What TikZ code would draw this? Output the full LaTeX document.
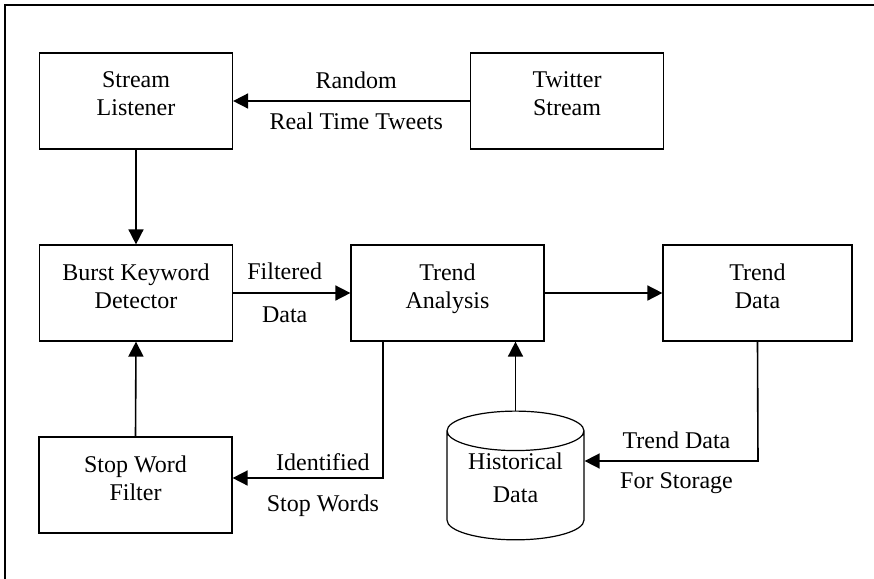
\documentclass[tikz,border=0pt]{standalone}
\usepackage{fontspec}
\setmainfont{Liberation Serif}
\usetikzlibrary{shapes.geometric,arrows.meta}

\begin{document}
\begin{tikzpicture}[x=0.5pt,y=-0.5pt,
		box/.style={shape=rectangle,draw=black,line width=0.6pt,minimum width=96.5pt,minimum height=48pt,align=center,text depth=7pt,font=\fontsize{12}{14}\selectfont},
		arr/.style={-{Triangle[length=7.5pt,width=7.5pt]},line width=0.8pt},
		lbl/.style={font=\fontsize{12}{14}\selectfont}]
		\useasboundingbox (0,0) rectangle (874,579);
		\draw [line width=0.6pt] (5,579) -- (5,5) -- (874,5);
		\node [box] (SL) at (136,101) {Stream\\Listener};
		\node [box] (TS) at (567,101) {Twitter\\Stream};
		\node [box] (BK) at (136,293) {Burst Keyword\\Detector};
		\node [box] (TA) at (447.5,293) {Trend\\Analysis};
		\node [box,minimum width=94.5pt] (TD) at (757.5,293) {Trend\\Data};
		\node [box] (SW) at (135.5,485) {Stop Word\\Filter};
		\node [shape=cylinder,shape border rotate=90,draw=black,line width=0.6pt,minimum width=68.5pt,minimum height=57pt,aspect=0.4,inner sep=1pt,align=center,text depth=10pt,lbl] (HD) at (515.5,488) {Historical\\[2.5pt]Data};
		\coordinate (k1) at (383,478);
		\coordinate (k2) at (758,461);
		\draw [arr] (TS.west) -- node [lbl,above=2.5pt,pos=0.48] (r1) {Random} node [lbl,below=2pt,pos=0.48] (r2) {Real Time Tweets} (SL.east);
		\draw [arr] (SL.south) -- (BK.north);
		\draw [arr] (BK.east) -- node [lbl,above=3pt,pos=0.44] (f1) {Filtered} node [lbl,below=3pt,pos=0.44] (f2) {Data} (TA.west);
		\draw [arr] (TA.east) -- (TD.west);
		\draw [arr] (SW.north) -- (BK.south);
		\draw [arr] (HD.north) -- (HD.north |- TA.south);
		\draw [arr] (TA.south -| k1) -- (k1) -- node [lbl,above,pos=0.4] (i1) {Identified} node [lbl,below=4.5pt,pos=0.4] (i2) {Stop Words} (k1 -| SW.east);
		\draw [arr] (TD.south) -- (k2) -- node [lbl,above=2.5pt,pos=0.47] (s1) {Trend Data} node [lbl,below=2pt,pos=0.47] (s2) {For Storage} (k2 -| HD.east);
	\end{tikzpicture}
\end{document}
